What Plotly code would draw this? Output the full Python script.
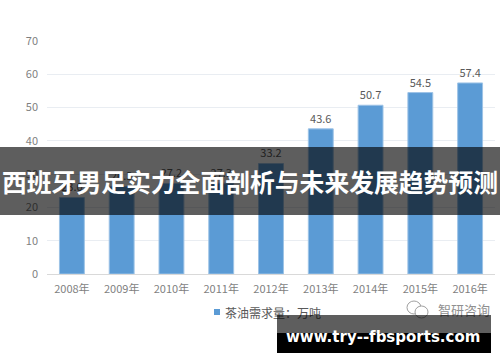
import plotly.graph_objects as go

years = ["2008年", "2009年", "2010年", "2011年", "2012年", "2013年", "2014年", "2015年", "2016年"]
demand = [23.0, 26.3, 27.2, 27.3, 33.2, 43.6, 50.7, 54.5, 57.4]
y_ticks = [0, 10, 20, 30, 40, 50, 60, 70]
series_name = "茶油需求量：万吨"
title_text = "西班牙男足实力全面剖析与未来发展趋势预测"
site_text = "www.try--fbsports.com"
watermark = "智研咨询"

W, H = 500, 362
L, R, T, B = 47, 5, 41, 88
PW, PH = W - L - R, H - T - B

def px(x):
    return (x - L) / PW

def py(y):
    return (H - B - y) / PH

FONT = "Noto Sans CJK SC"

fig = go.Figure()
fig.add_trace(go.Bar(
    x=years, y=demand, name=series_name,
    marker=dict(color="#5b9bd5", line=dict(color="#9dc3e6", width=1)),
    width=0.5,
    text=[f"{v:.1f}" for v in demand], textposition="outside",
    textfont=dict(family=FONT, size=11, color="#595959"),
    cliponaxis=False, showlegend=False,
))

fig.update_layout(
    width=W, height=H,
    margin=dict(l=L, r=R, t=T, b=B),
    paper_bgcolor="white", plot_bgcolor="white",
    font=dict(family=FONT, color="#7f7f7f"),
    bargap=0.5,
    xaxis=dict(showgrid=False, showline=True, linecolor="#d9d9d9", linewidth=1,
               ticks="", tickfont=dict(size=11, color="#7f7f7f"), ticklabelstandoff=5),
    yaxis=dict(range=[0, 70], tickvals=y_ticks, showgrid=True, gridcolor="#e9edf2",
               gridwidth=1, zeroline=False, showline=False, ticks="",
               tickfont=dict(size=11, color="#7f7f7f"), ticklabelstandoff=8),
)

# legend (manual)
fig.add_shape(type="rect", xref="paper", yref="paper",
              x0=px(214), x1=px(220), y0=py(315), y1=py(309),
              fillcolor="#5b9bd5", line=dict(width=0))
fig.add_annotation(xref="paper", yref="paper", x=px(223), y=py(312), xanchor="left", yanchor="middle",
                   text=series_name, showarrow=False, font=dict(family=FONT, size=12, color="#595959"))

# watermark icon + text
fig.add_shape(type="circle", xref="paper", yref="paper",
              x0=px(407), x1=px(421), y0=py(314), y1=py(301), line=dict(color="#a0a0a0", width=1))
fig.add_shape(type="circle", xref="paper", yref="paper",
              x0=px(415), x1=px(428), y0=py(318), y1=py(306), line=dict(color="#a0a0a0", width=1),
              fillcolor="white")
fig.add_annotation(xref="paper", yref="paper", x=px(436), y=py(309), xanchor="left", yanchor="middle",
                   text=watermark, showarrow=False, font=dict(family=FONT, size=13, color="#909090"))

# title banner
fig.add_annotation(xref="paper", yref="paper", x=px(250), y=py(181), xanchor="center", yanchor="middle",
                   text="<b>" + title_text + "</b>", showarrow=False,
                   width=W + 4, height=68, borderpad=0, borderwidth=0,
                   bgcolor="rgba(0,0,0,0.63)", align="center", valign="middle",
                   font=dict(family=FONT, size=24.8, color="white"))

# bottom site banner
fig.add_annotation(xref="paper", yref="paper", x=px(384), y=py(324), xanchor="center", yanchor="middle",
                   text=" ", showarrow=False, width=214, height=18, borderpad=0, borderwidth=0,
                   bgcolor="rgba(0,0,0,0.63)")
fig.add_annotation(xref="paper", yref="paper", x=px(384), y=py(343), xanchor="center", yanchor="middle",
                   text=" ", showarrow=False, width=214, height=20, borderpad=0, borderwidth=0,
                   bgcolor="black")
fig.add_annotation(xref="paper", yref="paper", x=px(383), y=py(337), xanchor="center", yanchor="middle",
                   text="<b>" + site_text + "</b>", showarrow=False,
                   font=dict(family="DejaVu Sans", size=15, color="white"))

fig.write_html("out.html")
